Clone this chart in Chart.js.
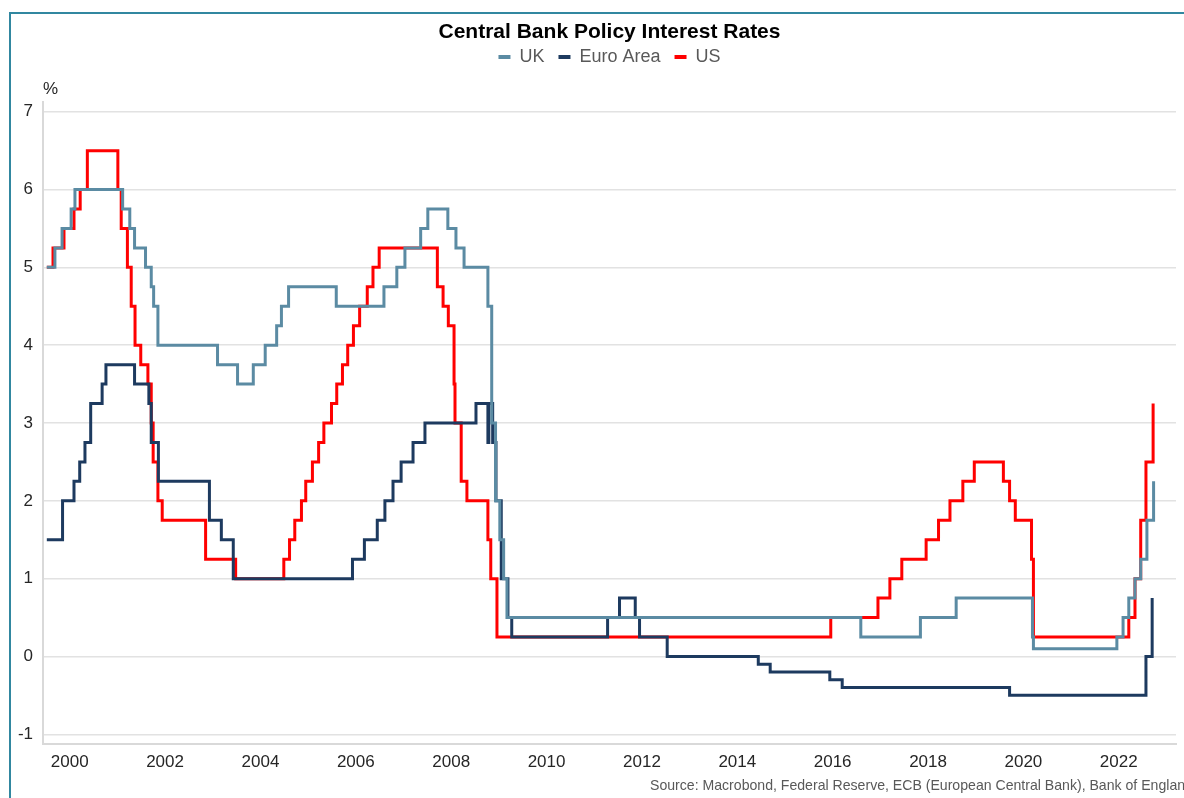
<!DOCTYPE html>
<html>
<head>
<meta charset="utf-8">
<title>Central Bank Policy Interest Rates</title>
<script src="https://cdn.jsdelivr.net/npm/chart.js@4.4.0/dist/chart.umd.min.js"></script>
<style>
  html, body { margin: 0; padding: 0; background: #fff; }
  #wrap { position: relative; width: 1184px; height: 798px; }
</style>
</head>
<body>
<div id="wrap"><canvas id="rates"></canvas></div>
<script>
// policy rate changes: date of the move (decimal year) and the new rate in %
const ukDates = [1999.52, 1999.69, 1999.84, 2000.03, 2000.11, 2001.11, 2001.26, 2001.36, 2001.59, 2001.71,
  2001.76, 2001.85, 2003.10, 2003.52, 2003.85, 2004.10, 2004.34, 2004.44, 2004.59, 2005.59,
  2006.59, 2006.86, 2007.03, 2007.36, 2007.51, 2007.93, 2008.10, 2008.27, 2008.77, 2008.85,
  2008.93, 2009.02, 2009.10, 2009.17, 2016.59, 2017.84, 2018.59, 2020.19, 2020.21, 2021.96,
  2022.09, 2022.21, 2022.34, 2022.46, 2022.59, 2022.73];
const ukRates = [5.0, 5.25, 5.5, 5.75, 6.0, 5.75, 5.5, 5.25, 5.0, 4.75,
  4.5, 4.0, 3.75, 3.5, 3.75, 4.0, 4.25, 4.5, 4.75, 4.5,
  4.75, 5.0, 5.25, 5.5, 5.75, 5.5, 5.25, 5.0, 4.5, 3.0,
  2.0, 1.5, 1.0, 0.5, 0.25, 0.5, 0.75, 0.25, 0.1, 0.25,
  0.5, 0.75, 1.0, 1.25, 1.75, 2.25];

const euroDates = [1999.52, 1999.85, 2000.09, 2000.21, 2000.32, 2000.44, 2000.68, 2000.76, 2001.36, 2001.66,
  2001.71, 2001.86, 2002.93, 2003.18, 2003.43, 2005.93, 2006.18, 2006.45, 2006.61, 2006.78,
  2006.95, 2007.20, 2007.45, 2008.52, 2008.77, 2008.79, 2008.87, 2008.94, 2009.05, 2009.19,
  2009.27, 2011.28, 2011.53, 2011.86, 2011.95, 2012.53, 2014.44, 2014.69, 2015.94, 2016.20,
  2019.71, 2022.57, 2022.70];
const euroRates = [1.5, 2.0, 2.25, 2.5, 2.75, 3.25, 3.5, 3.75, 3.5, 3.25,
  2.75, 2.25, 1.75, 1.5, 1.0, 1.25, 1.5, 1.75, 2.0, 2.25,
  2.5, 2.75, 3.0, 3.25, 2.75, 3.25, 2.75, 2.0, 1.0, 0.5,
  0.25, 0.5, 0.75, 0.5, 0.25, 0.0, -0.1, -0.2, -0.3, -0.4,
  -0.5, 0.0, 0.75];

const usDates = [1999.52, 1999.65, 1999.88, 2000.09, 2000.22, 2000.37, 2001.01, 2001.08, 2001.21, 2001.29,
  2001.37, 2001.49, 2001.64, 2001.71, 2001.75, 2001.85, 2001.94, 2002.85, 2003.48, 2004.49,
  2004.61, 2004.72, 2004.86, 2004.95, 2005.09, 2005.22, 2005.33, 2005.49, 2005.60, 2005.72,
  2005.83, 2005.95, 2006.08, 2006.24, 2006.36, 2006.49, 2007.71, 2007.83, 2007.94, 2008.06,
  2008.08, 2008.21, 2008.33, 2008.77, 2008.83, 2008.96, 2015.96, 2016.95, 2017.20, 2017.45,
  2017.96, 2018.22, 2018.46, 2018.73, 2018.97, 2019.58, 2019.71, 2019.83, 2020.17, 2020.21,
  2022.21, 2022.34, 2022.46, 2022.57, 2022.72];
const usRates = [5.0, 5.25, 5.5, 5.75, 6.0, 6.5, 6.0, 5.5, 5.0, 4.5,
  4.0, 3.75, 3.5, 3.0, 2.5, 2.0, 1.75, 1.25, 1.0, 1.25,
  1.5, 1.75, 2.0, 2.25, 2.5, 2.75, 3.0, 3.25, 3.5, 3.75,
  4.0, 4.25, 4.5, 4.75, 5.0, 5.25, 4.75, 4.5, 4.25, 3.5,
  3.0, 2.25, 2.0, 1.5, 1.0, 0.25, 0.5, 0.75, 1.0, 1.25,
  1.5, 1.75, 2.0, 2.25, 2.5, 2.25, 2.0, 1.75, 1.25, 0.25,
  0.5, 1.0, 1.75, 2.5, 3.25];

const yearTicks = [2000, 2002, 2004, 2006, 2008, 2010, 2012, 2014, 2016, 2018, 2020, 2022];
const rateTicks = [-1, 0, 1, 2, 3, 4, 5, 6, 7];

const FONT = "'Liberation Sans', Arial, sans-serif";
const sourceText = 'Source: Macrobond, Federal Reserve, ECB (European Central Bank), Bank of England';

const series = [
  { label: 'UK', dates: ukDates, rates: ukRates, color: '#5b8ba3' },
  { label: 'Euro Area', dates: euroDates, rates: euroRates, color: '#1d3a5f' },
  { label: 'US', dates: usDates, rates: usRates, color: '#ff0000' }
];

function toPoints(dates, rates) {
  return dates.map((d, i) => ({ x: d, y: rates[i] }));
}

// white background, teal frame and the source line
const framePlugin = {
  id: 'frame',
  beforeDraw(chart) {
    const ctx = chart.ctx;
    ctx.save();
    ctx.fillStyle = '#fff';
    ctx.fillRect(0, 0, chart.width, chart.height);
    ctx.strokeStyle = '#3187a0';
    ctx.lineWidth = 2;
    ctx.strokeRect(10, 13, chart.width + 40, chart.height + 40);
    ctx.restore();
  },
  afterDraw(chart) {
    const ctx = chart.ctx;
    ctx.save();
    ctx.font = '14.1px ' + FONT;
    ctx.fillStyle = '#595959';
    ctx.textBaseline = 'middle';
    ctx.textAlign = 'left';
    ctx.fillText(sourceText, 650, 786);
    ctx.restore();
  }
};

new Chart(document.getElementById('rates'), {
  type: 'line',
  data: {
    datasets: series.map(s => ({
      label: s.label,
      data: toPoints(s.dates, s.rates),
      borderColor: s.color,
      backgroundColor: s.color,
      borderWidth: 3,
      stepped: 'before',
      pointRadius: 0,
      fill: false
    }))
  },
  options: {
    responsive: true,
    maintainAspectRatio: false,
    animation: false,
    devicePixelRatio: 1,
    layout: { padding: { left: 0, right: 8, top: 0, bottom: 0 } },
    scales: {
      x: {
        type: 'linear',
        min: 1999.44,
        max: 2023.2,
        afterBuildTicks: axis => { axis.ticks = yearTicks.map(v => ({ value: v })); },
        afterFit: axis => { axis.height = 54; },
        grid: { drawOnChartArea: false, drawTicks: false },
        border: { color: '#d9d9d9', width: 2 },
        ticks: {
          padding: 8, maxRotation: 0, autoSkip: false, color: '#262626',
          font: { family: FONT, size: 17 },
          callback: v => String(v)
        }
      },
      y: {
        min: -1.125,
        max: 7.125,
        afterBuildTicks: axis => { axis.ticks = rateTicks.map(v => ({ value: v })); },
        afterFit: axis => { axis.width = 43; },
        grid: { color: '#e2e2e2', lineWidth: 1.5, drawTicks: false },
        border: { color: '#d9d9d9', width: 2 },
        ticks: {
          padding: 10, color: '#262626',
          font: { family: FONT, size: 17 },
          callback: v => String(v)
        }
      }
    },
    plugins: {
      title: {
        display: true,
        fullSize: false,
        text: 'Central Bank Policy Interest Rates',
        color: '#000',
        font: { family: FONT, size: 21, weight: 'bold' },
        padding: { top: 20, bottom: -11.2 }
      },
      legend: {
        position: 'top',
        align: 'center',
        fullSize: false,
        labels: {
          boxWidth: 12,
          boxHeight: 4,
          padding: 14,
          color: '#595959',
          font: { family: FONT, size: 18 },
          generateLabels: chart => chart.data.datasets.map((ds, i) => ({
            text: ds.label,
            fillStyle: ds.borderColor,
            strokeStyle: ds.borderColor,
            fontColor: '#595959',
            lineWidth: 0,
            hidden: false,
            datasetIndex: i
          }))
        }
      },
      // unit label sits just above the value axis
      subtitle: {
        display: true,
        fullSize: false,
        text: '%',
        align: 'start',
        weight: 500,
        color: '#262626',
        font: { family: FONT, size: 17, weight: 'normal' },
        padding: { top: 3, bottom: 2.6 }
      },
      tooltip: { enabled: false }
    }
  },
  plugins: [framePlugin]
});
</script>
</body>
</html>
